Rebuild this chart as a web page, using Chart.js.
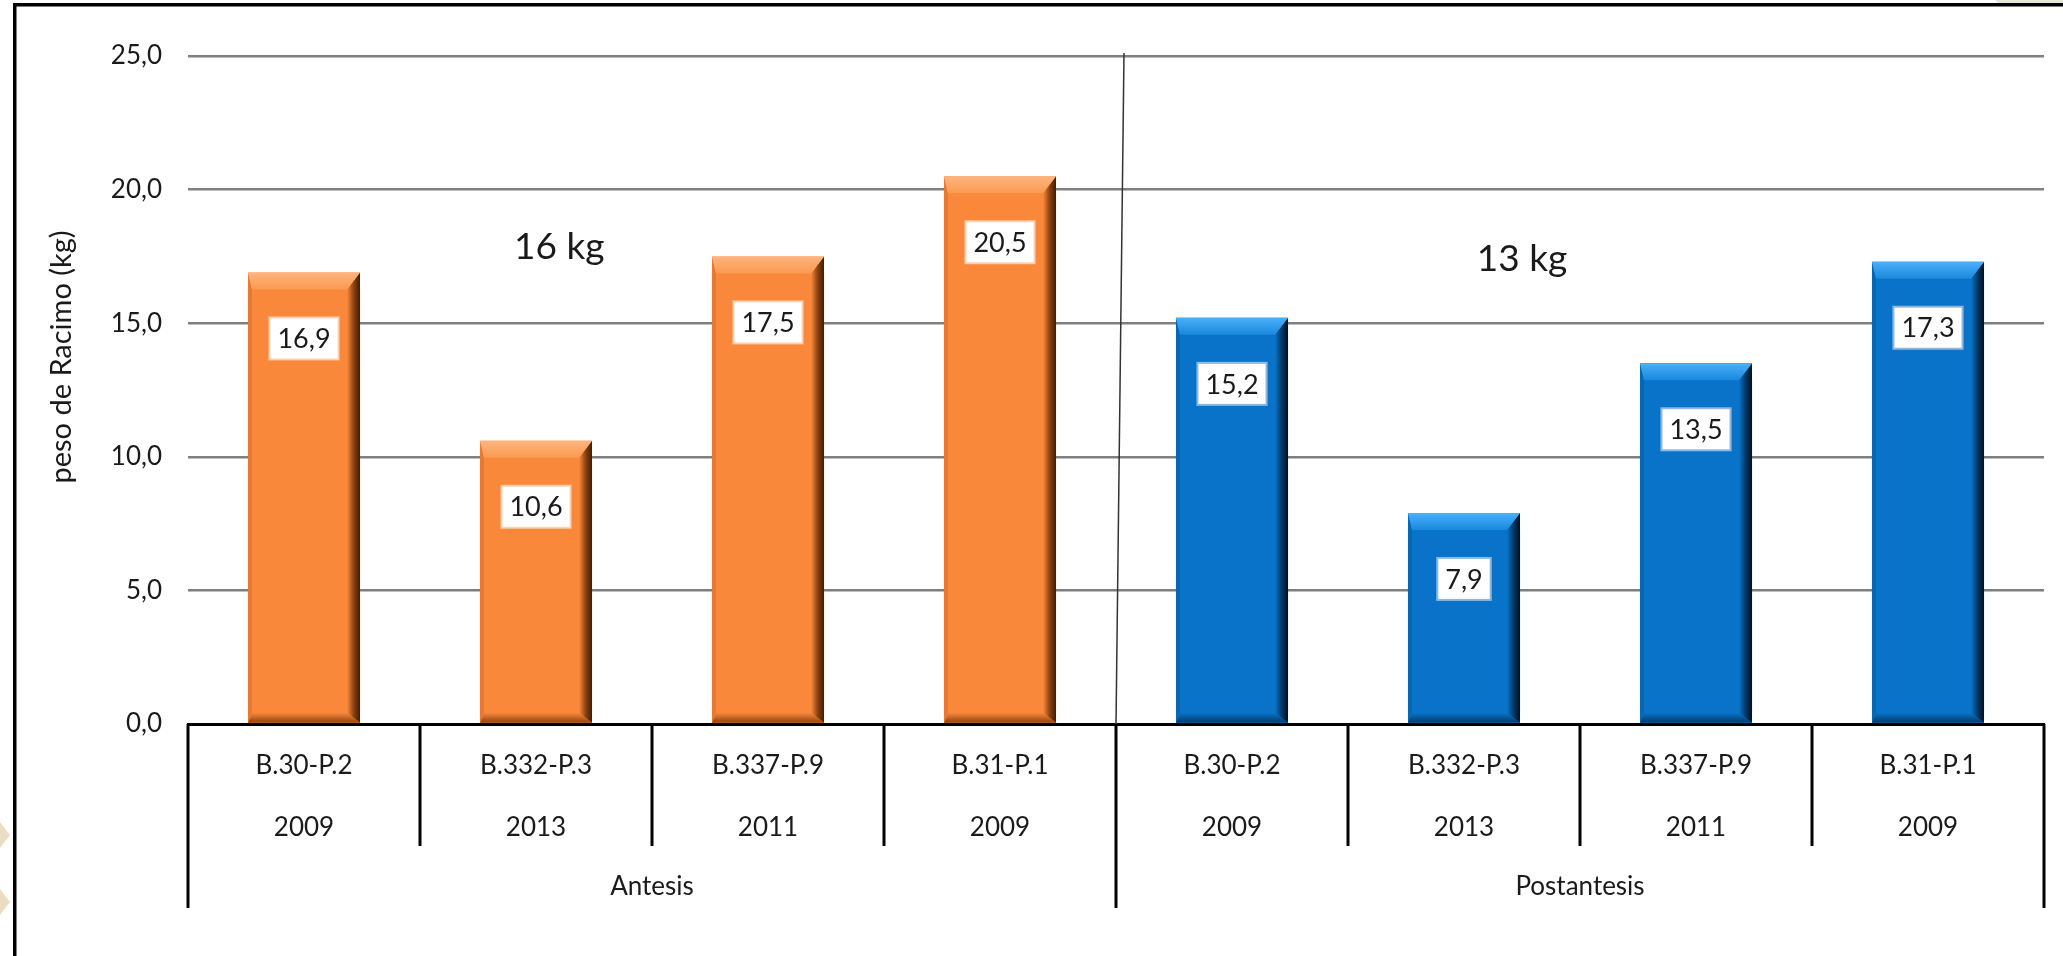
<!DOCTYPE html>
<html>
<head>
<meta charset="utf-8">
<script src="https://cdn.jsdelivr.net/npm/chart.js@4.4.1/dist/chart.umd.min.js"></script>
<style>
  html, body { margin: 0; padding: 0; background: #fff; }
  #wrap { width: 2063px; height: 956px; position: relative; }
</style>
</head>
<body>
<div id="wrap"><canvas id="c" width="2063" height="956"></canvas></div>
<script>
// ---- data ----
const categories = ['B.30-P.2', 'B.332-P.3', 'B.337-P.9', 'B.31-P.1', 'B.30-P.2', 'B.332-P.3', 'B.337-P.9', 'B.31-P.1'];
const years = ['2009', '2013', '2011', '2009', '2009', '2013', '2011', '2009'];
const groups = ['Antesis', 'Postantesis'];
const antesisValues = [16.9, 10.6, 17.5, 20.5, null, null, null, null];
const postantesisValues = [null, null, null, null, 15.2, 7.9, 13.5, 17.3];
const groupAverages = ['16 kg', '13 kg'];
const yTicks = [0, 5, 10, 15, 20, 25];
const yTitle = 'peso de Racimo (kg)';

const FONT = 'Lato, "Open Sans", sans-serif';
const TXT = '#1a1a1a';

const palette = {
  orange: { face: '#F9883A', top1: '#FDB57F', top2: '#FA9A50', dark: '#3E1C04', bottom: '#8E4311', left: '#E77A30', border: 'rgba(250,210,180,0.9)' },
  blue:   { face: '#0873C9', top1: '#4BB0FA', top2: '#1A88DD', dark: '#00101F', bottom: '#033A66', left: '#0767B5', border: '#8DB8E6' }
};

const fmt = v => v.toFixed(1).replace('.', ',');

// background + frame decorations
const framePlugin = {
  id: 'frame',
  beforeDraw(chart) {
    const ctx = chart.ctx;
    ctx.save();
    ctx.fillStyle = '#ffffff';
    ctx.fillRect(0, 0, chart.width, chart.height);
    ctx.fillStyle = '#E0E9D6';
    ctx.beginPath(); ctx.moveTo(1995, 0); ctx.lineTo(2063, 0); ctx.lineTo(2063, 4); ctx.lineTo(1999, 4); ctx.closePath(); ctx.fill();
    ctx.fillStyle = '#EBDDC3';
    [835, 902].forEach(cy => {
      ctx.beginPath(); ctx.moveTo(0, cy - 13); ctx.lineTo(10, cy); ctx.lineTo(0, cy + 13); ctx.closePath(); ctx.fill();
    });
    ctx.fillStyle = '#000';
    ctx.fillRect(13, 3, 3.5, chart.height - 3);
    ctx.fillRect(13, 3, chart.width - 13, 3.5);
    ctx.restore();
  }
};

// bevel effect + data labels
const bevelPlugin = {
  id: 'bevel',
  afterDatasetsDraw(chart) {
    const ctx = chart.ctx;
    chart.data.datasets.forEach((ds, di) => {
      const pal = palette[ds.paletteKey];
      const meta = chart.getDatasetMeta(di);
      meta.data.forEach((bar, i) => {
        if (ds.data[i] == null) return;
        const w = bar.width;
        const l = bar.x - w / 2, r = bar.x + w / 2, t = bar.y, b = bar.base;
        const bt = 17, br = 13, bb = 10, bl = 4;
        ctx.save();
        ctx.fillStyle = pal.left;
        ctx.beginPath(); ctx.moveTo(l, t); ctx.lineTo(l + bl, t + bt); ctx.lineTo(l + bl, b - bb); ctx.lineTo(l, b); ctx.closePath(); ctx.fill();
        let g = ctx.createLinearGradient(r - br, 0, r, 0);
        g.addColorStop(0, pal.face); g.addColorStop(0.5, pal.bottom); g.addColorStop(1, pal.dark);
        ctx.fillStyle = g;
        ctx.beginPath(); ctx.moveTo(r, t); ctx.lineTo(r, b); ctx.lineTo(r - br, b - bb); ctx.lineTo(r - br, t + bt); ctx.closePath(); ctx.fill();
        g = ctx.createLinearGradient(0, b - bb, 0, b);
        g.addColorStop(0, pal.face); g.addColorStop(1, pal.bottom);
        ctx.fillStyle = g;
        ctx.beginPath(); ctx.moveTo(l, b); ctx.lineTo(r, b); ctx.lineTo(r - br, b - bb); ctx.lineTo(l + bl, b - bb); ctx.closePath(); ctx.fill();
        g = ctx.createLinearGradient(0, t, 0, t + bt);
        g.addColorStop(0, pal.top1); g.addColorStop(1, pal.top2);
        ctx.fillStyle = g;
        ctx.beginPath(); ctx.moveTo(l, t); ctx.lineTo(r, t); ctx.lineTo(r - br, t + bt); ctx.lineTo(l + bl, t + bt); ctx.closePath(); ctx.fill();

        const text = fmt(ds.data[i]);
        ctx.font = '27px ' + FONT;
        const tw = ctx.measureText(text).width;
        const bw = tw + 16, bh = 42;
        const cy = t + 66, cx = bar.x;
        ctx.fillStyle = '#ffffff';
        ctx.fillRect(cx - bw / 2, cy - bh / 2, bw, bh);
        ctx.strokeStyle = pal.border; ctx.lineWidth = 2;
        ctx.strokeRect(cx - bw / 2, cy - bh / 2, bw, bh);
        ctx.fillStyle = TXT; ctx.textAlign = 'center'; ctx.textBaseline = 'middle';
        ctx.fillText(text, cx, cy + 1);
        ctx.restore();
      });
    });
  }
};

// multi-level axis decorations, separator, annotations, y title
const decoPlugin = {
  id: 'deco',
  afterDraw(chart) {
    const ctx = chart.ctx;
    const xs = chart.scales.x, ys = chart.scales.y;
    const base = ys.getPixelForValue(0);
    ctx.save();
    ctx.strokeStyle = '#000'; ctx.lineWidth = 3;
    for (let k = 0; k <= categories.length; k++) {
      const px = Math.round(xs.getPixelForValue(k - 0.5));
      const outer = (k % 4 === 0);
      ctx.beginPath(); ctx.moveTo(px, base); ctx.lineTo(px, base + (outer ? 184 : 122)); ctx.stroke();
    }
    ctx.font = '26px ' + FONT; ctx.fillStyle = TXT; ctx.textAlign = 'center'; ctx.textBaseline = 'middle';
    groups.forEach((gname, gi) => {
      const x0 = xs.getPixelForValue(gi * 4 - 0.5), x1 = xs.getPixelForValue(gi * 4 + 3.5);
      ctx.fillText(gname, (x0 + x1) / 2, base + 163);
    });
    const sx = xs.getPixelForValue(3.5);
    ctx.strokeStyle = '#333'; ctx.lineWidth = 1.5;
    ctx.beginPath(); ctx.moveTo(sx + 8, ys.getPixelForValue(25) - 3); ctx.lineTo(sx, base); ctx.stroke();
    ctx.font = '37px ' + FONT; ctx.fillStyle = TXT;
    ctx.fillText(groupAverages[0], xs.getPixelForValue(1.1), ys.getPixelForValue(17.85));
    ctx.fillText(groupAverages[1], xs.getPixelForValue(5.25), ys.getPixelForValue(17.4));
    ctx.font = '29px ' + FONT;
    ctx.translate(62, 357); ctx.rotate(-Math.PI / 2);
    ctx.fillText(yTitle, 0, 0);
    ctx.restore();
  }
};

const chart = new Chart(document.getElementById('c'), {
  type: 'bar',
  data: {
    labels: categories.map((c, i) => [c, years[i]]),
    datasets: [
      { label: groups[0], data: antesisValues, backgroundColor: palette.orange.face, paletteKey: 'orange', grouped: false },
      { label: groups[1], data: postantesisValues, backgroundColor: palette.blue.face, paletteKey: 'blue', grouped: false }
    ]
  },
  options: {
    responsive: false,
    devicePixelRatio: 1,
    animation: false,
    barPercentage: 0.483,
    categoryPercentage: 1,
    layout: { padding: { left: 0, top: 56, right: 19, bottom: 0 } },
    plugins: { legend: { display: false }, tooltip: { enabled: false }, title: { display: false } },
    scales: {
      x: {
        offset: true,
        grid: { display: false, drawTicks: false },
        border: { display: true, color: '#000', width: 3 },
        ticks: { autoSkip: false, maxRotation: 0, minRotation: 0, padding: 11, color: TXT, font: { family: FONT, size: 26, lineHeight: 2.385 } },
        afterFit(s) { s.height = 232; }
      },
      y: {
        min: 0, max: 25,
        afterBuildTicks(s) { s.ticks = yTicks.map(v => ({ value: v })); },
        grid: { color: ctx => ctx.tick && ctx.tick.value === 0 ? 'rgba(0,0,0,0)' : '#7F7F7F', lineWidth: 2.5, drawTicks: false },
        border: { display: false },
        ticks: { padding: 26, color: TXT, font: { family: FONT, size: 26 }, callback: v => fmt(v) },
        afterFit(s) { s.width = 188; }
      }
    }
  },
  plugins: [framePlugin, bevelPlugin, decoPlugin]
});
</script>
</body>
</html>
